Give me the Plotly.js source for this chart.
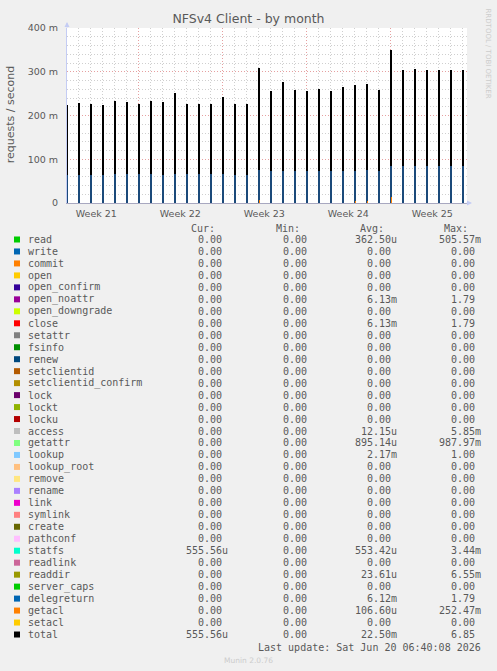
<!DOCTYPE html>
<html>
<head>
<meta charset="utf-8">
<script src="https://cdn.plot.ly/plotly-3.0.1.min.js"></script>
<style>
  html, body { margin: 0; padding: 0; background: #f0f0f0; }
  #chart { width: 497px; height: 671px; }
</style>
</head>
<body>
<div id="chart"></div>
<script>
// ---- data ----
const spikeTimes = [
  '2026-05-19 02:00','2026-05-20 02:00','2026-05-21 02:00','2026-05-22 02:00','2026-05-23 02:00',
  '2026-05-24 02:00','2026-05-25 02:00','2026-05-26 02:00','2026-05-27 02:00','2026-05-28 02:00',
  '2026-05-29 02:00','2026-05-30 02:00','2026-05-31 02:00','2026-06-01 02:00','2026-06-02 02:00',
  '2026-06-03 02:00','2026-06-04 02:00','2026-06-05 02:00','2026-06-06 02:00','2026-06-07 02:00',
  '2026-06-08 02:00','2026-06-09 02:00','2026-06-10 02:00','2026-06-11 02:00','2026-06-12 02:00',
  '2026-06-13 02:00','2026-06-14 02:00','2026-06-15 02:00','2026-06-16 02:00','2026-06-17 02:00',
  '2026-06-18 02:00','2026-06-19 02:00','2026-06-20 02:00','2026-06-21 02:00'
];
const totalPeaks = [
  0.224,0.228,0.2255,0.224,0.233,0.231,0.2255,0.233,0.231,0.2507,
  0.226,0.226,0.226,0.242,0.226,0.2255,0.308,0.256,0.276,0.258,
  0.256,0.2606,0.256,0.2645,0.269,0.271,0.258,0.349,0.303,0.3055,
  0.303,0.303,0.303,0.303
];
const lowerStack = [
  0.064,0.065,0.064,0.064,0.066,0.066,0.066,0.066,0.065,0.066,
  0.066,0.066,0.066,0.066,0.065,0.065,0.075,0.073,0.073,0.073,
  0.073,0.073,0.073,0.073,0.073,0.075,0.073,0.085,0.085,0.085,
  0.085,0.085,0.085,0.085
];
const getaclPeaks = [
  0,0,0,0,0,0,0,0,0,0,
  0,0,0,0,0,0,0.008,0,0,0,
  0,0,0,0,0.005,0.005,0,0.014,0,0,
  0,0,0,0
];

const yTickVals = [0, 0.1, 0.2, 0.3, 0.4];
const yTickText = ['0', '100 m', '200 m', '300 m', '400 m'];

const fieldNames = ['read','write','commit','open','open_confirm','open_noattr','open_downgrade','close',
  'setattr','fsinfo','renew','setclientid','setclientid_confirm','lock','lockt','locku','access','getattr',
  'lookup','lookup_root','remove','rename','link','symlink','create','pathconf','statfs','readlink',
  'readdir','server_caps','delegreturn','getacl','setacl','total'];
const fieldColors = ['#00CC00','#0066B3','#FF8000','#FFCC00','#330099','#990099','#CCFF00','#FF0000',
  '#808080','#008F00','#00487D','#B35A00','#B38F00','#6B006B','#8FB300','#B30000','#BEBEBE','#80FF80',
  '#80C9FF','#FFC080','#FFE680','#AA80FF','#EE00CC','#FF8080','#666600','#FFBFFF','#00FFCC','#CC6699',
  '#999900','#00CC00','#0066B3','#FF8000','#FFCC00','#000000'];
const curVals = [0,0,0,0,0,0,0,0,0,0,0,0,0,0,0,0,0,0,0,0,0,0,0,0,0,0,0.00055556,0,0,0,0,0,0,0.00055556];
const minVals = [0,0,0,0,0,0,0,0,0,0,0,0,0,0,0,0,0,0,0,0,0,0,0,0,0,0,0,0,0,0,0,0,0,0];
const avgVals = [0.0003625,0,0,0,0,0.00613,0,0.00613,0,0,0,0,0,0,0,0,0.00001215,0.00089514,
  0.00217,0,0,0,0,0,0,0,0.00055342,0,0.00002361,0,0.00612,0.0001066,0,0.0225];
const maxVals = [0.50557,0,0,0,0,1.79,0,1.79,0,0,0,0,0,0,0,0,0.00585,0.98797,
  1.00,0,0,0,0,0,0,0,0.00344,0,0.00655,0,1.79,0.25247,0,6.85];

const titleText = 'NFSv4 Client - by month';
const yTitle = 'requests / second';
const lastUpdate = 'Last update: Sat Jun 20 06:40:08 2026';
const footer = 'Munin 2.0.76';
const sideText = 'RRDTOOL / TOBI OETIKER';

// ---- layout helpers ----
const PL = 67, PT = 28, PW = 400, PH = 175;
const px = x => (x - PL) / PW;
const py = y => (PT + PH - y) / PH;
const HOUR = 3600000;
const NBSP = '\u00a0';

function fmt(v) {
  if (v === 0) return '0.00' + NBSP;
  const a = Math.abs(v);
  let m = v, s = '';
  if (a < 1e-3) { m = v * 1e6; s = 'u'; }
  else if (a < 1) { m = v * 1e3; s = 'm'; }
  m = Math.round(m * 100) / 100;
  return m.toFixed(2) + (s || NBSP);
}

const txtColor = '#595959';
const mono = 'DejaVu Sans Mono';
const sans = 'DejaVu Sans';

const traces = [
  { type: 'bar', x: spikeTimes, y: totalPeaks, width: 2 * HOUR, offset: -3.5 * HOUR,
    marker: { color: '#9a9a9a', line: { width: 0 } }, hoverinfo: 'skip', showlegend: false },
  { type: 'bar', x: spikeTimes, y: totalPeaks, width: 4 * HOUR, offset: -2 * HOUR,
    marker: { color: '#000000', line: { width: 0 } }, name: 'total', showlegend: false },
  { type: 'bar', x: spikeTimes, y: lowerStack, width: 4.5 * HOUR, offset: -2.5 * HOUR,
    marker: { color: '#1b4a7a', line: { width: 0 } }, hoverinfo: 'skip', showlegend: false },
  { type: 'bar', x: spikeTimes, y: getaclPeaks, width: 3 * HOUR, offset: -1.5 * HOUR,
    marker: { color: '#FF8000', line: { width: 0 } }, name: 'getacl', showlegend: false }
];

const annotations = [];
const shapes = [];

// column headers
const headers = [['Cur:', 217.3], ['Min:', 301.7], ['Avg:', 385.7], ['Max:', 470]];
headers.forEach(([t, x]) => annotations.push({
  xref: 'paper', yref: 'paper', x: px(x), y: py(228.3), xanchor: 'right', yanchor: 'middle',
  text: t, showarrow: false, font: { family: mono, size: 10, color: txtColor }
}));

const colEnds = [230, 314.5, 399, 483.3];
fieldNames.forEach((name, i) => {
  const ry = 239.5 + i * 11.97;
  shapes.push({ type: 'rect', xref: 'paper', yref: 'paper', x0: px(14), x1: px(20),
    y0: py(ry + 3), y1: py(ry - 3), fillcolor: fieldColors[i], line: { width: 0 } });
  annotations.push({ xref: 'paper', yref: 'paper', x: px(25.5), y: py(ry), xanchor: 'left', yanchor: 'middle',
    text: name, showarrow: false, font: { family: mono, size: 10, color: txtColor } });
  [curVals[i], minVals[i], avgVals[i], maxVals[i]].forEach((v, c) => annotations.push({
    xref: 'paper', yref: 'paper', x: px(colEnds[c]), y: py(ry), xanchor: 'right', yanchor: 'middle',
    text: fmt(v), showarrow: false, font: { family: mono, size: 10, color: txtColor }
  }));
});

annotations.push({ xref: 'paper', yref: 'paper', x: px(482.5), y: py(647.3), xanchor: 'right', yanchor: 'middle',
  text: lastUpdate, showarrow: false, font: { family: mono, size: 10, color: txtColor } });
annotations.push({ xref: 'paper', yref: 'paper', x: px(248), y: py(660.7), xanchor: 'center', yanchor: 'middle',
  text: footer, showarrow: false, font: { family: sans, size: 7.5, color: '#cccccc' } });
annotations.push({ xref: 'paper', yref: 'paper', x: px(487.5), y: py(53), xanchor: 'center', yanchor: 'middle',
  text: sideText, textangle: 90, showarrow: false, font: { family: sans, size: 7, color: '#cccccc' } });
annotations.push({ xref: 'paper', yref: 'paper', x: px(10.7), y: py(114.5), xanchor: 'center', yanchor: 'middle',
  text: yTitle, textangle: -90, showarrow: false, font: { family: sans, size: 11, color: txtColor } });
// axis arrows
annotations.push({ xref: 'paper', yref: 'paper', x: 0, y: py(22), ax: 0, ay: 7, text: '',
  showarrow: true, arrowhead: 2, arrowsize: 1, arrowwidth: 1, arrowcolor: '#c4ccf4' });
annotations.push({ xref: 'paper', yref: 'paper', x: px(472), y: 0, ax: -7, ay: 0, text: '',
  showarrow: true, arrowhead: 2, arrowsize: 1, arrowwidth: 1, arrowcolor: '#c4ccf4' });

const layout = {
  width: 497, height: 671,
  margin: { l: PL, r: 497 - PL - PW, t: PT, b: 671 - PT - PH, pad: 0 },
  paper_bgcolor: '#f0f0f0', plot_bgcolor: '#ffffff',
  barmode: 'overlay', bargap: 0,
  showlegend: false,
  title: { text: titleText, xref: 'container', x: 0.5, xanchor: 'center',
    yref: 'container', y: 1 - 19 / 671, yanchor: 'middle',
    font: { family: sans, size: 12.5, color: txtColor } },
  xaxis: {
    type: 'date', range: ['2026-05-19 01:24', '2026-06-21 09:24'],
    tickmode: 'linear', tick0: '2026-05-18', dtick: 7 * 86400000,
    ticklabelmode: 'period', tickformat: 'Week %V',
    showgrid: true, gridcolor: '#e6a0a0', griddash: '1px,2px', gridwidth: 1,
    minor: { dtick: 86400000, tick0: '2026-05-18', showgrid: true, gridcolor: '#cfcfcf', griddash: '1px,2px', gridwidth: 1 },
    showline: true, linecolor: '#a8a8c0', linewidth: 1,
    ticks: '', ticklabelstandoff: 2, zeroline: false, fixedrange: true,
    tickfont: { family: sans, size: 9.5, color: txtColor }
  },
  yaxis: {
    range: [0, 0.4], tickmode: 'array', tickvals: yTickVals, ticktext: yTickText,
    showgrid: true, gridcolor: '#e6a0a0', griddash: '1px,2px', gridwidth: 1,
    minor: { dtick: 0.02, showgrid: true, gridcolor: '#cfcfcf', griddash: '1px,2px', gridwidth: 1 },
    showline: true, linecolor: '#c4ccf4', linewidth: 1,
    ticks: '', ticklabelstandoff: 6, zeroline: false, fixedrange: true,
    tickfont: { family: sans, size: 9.5, color: txtColor }
  },
  annotations: annotations,
  shapes: shapes
};

Plotly.newPlot('chart', traces, layout, { displayModeBar: false, staticPlot: true });
</script>
</body>
</html>
